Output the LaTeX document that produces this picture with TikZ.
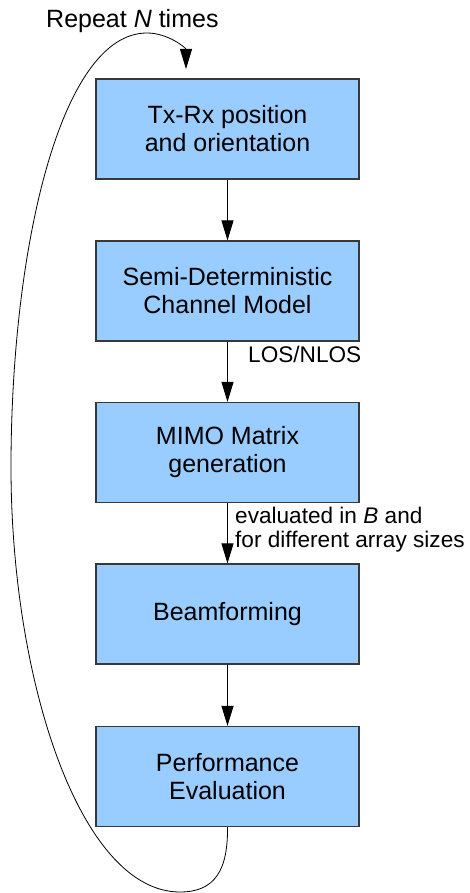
\documentclass[tikz,border=0pt]{standalone}
\usepackage{fontspec}
\setmainfont{Liberation Sans}
\usetikzlibrary{arrows.meta}
\begin{document}
\begin{tikzpicture}[x=1pt,y=-1pt,
  stepbox/.style={draw=black!78,line width=1.2pt,fill=boxblue,
    minimum width=263pt,minimum height=100pt,inner sep=0pt,
    align=center,font=\fontsize{25}{28}\selectfont},
  flow/.style={line width=0.9pt,-{Triangle[length=20pt,width=12pt]}},
  lbl/.style={inner sep=0pt,align=left,font=\fontsize{22.6}{24}\selectfont},
  loopline/.style={line width=0.8pt,-{Triangle[length=20pt,width=12pt]}}]
\definecolor{boxblue}{HTML}{99CCFF}
\useasboundingbox (0,0) rectangle (470,893);

\node[stepbox] (b1) at (227.5,129) {Tx-Rx position\\and orientation};
\node[stepbox] (b2) at (227.5,291) {Semi-Deterministic\\Channel Model};
\node[stepbox] (b3) at (227.5,452.5) {MIMO Matrix\\generation};
\node[stepbox] (b4) at (227.5,614) {Beamforming};
\node[stepbox] (b5) at (227.5,776.5) {Performance\\Evaluation};

\draw[flow] (b1) -- (b2);
\draw[flow] (b2) -- (b3);
\draw[flow] (b3) -- (b4);
\draw[flow] (b4) -- (b5);

\node[lbl,anchor=base west] (los) at (248,362) {LOS/NLOS};
\node[lbl,anchor=north west] (eval) at (235,507) {evaluated in \textit{B} and\\for different array sizes};

% feedback loop from the last step back to the first
\coordinate (loopend) at (186,69);
\draw[loopline] (b5.south) .. controls (228,870) and (215,892) .. (180,892)
  .. controls (80,892) and (11,680) .. (11,467)
  .. controls (11,250) and (60,33) .. (147,33)
  .. controls (168,33) and (186,48) .. (loopend);
\node[inner sep=0pt,anchor=base west,font=\fontsize{25}{28}\selectfont] (rep) at (46,28) {Repeat \textit{N} times};
\end{tikzpicture}
\end{document}
